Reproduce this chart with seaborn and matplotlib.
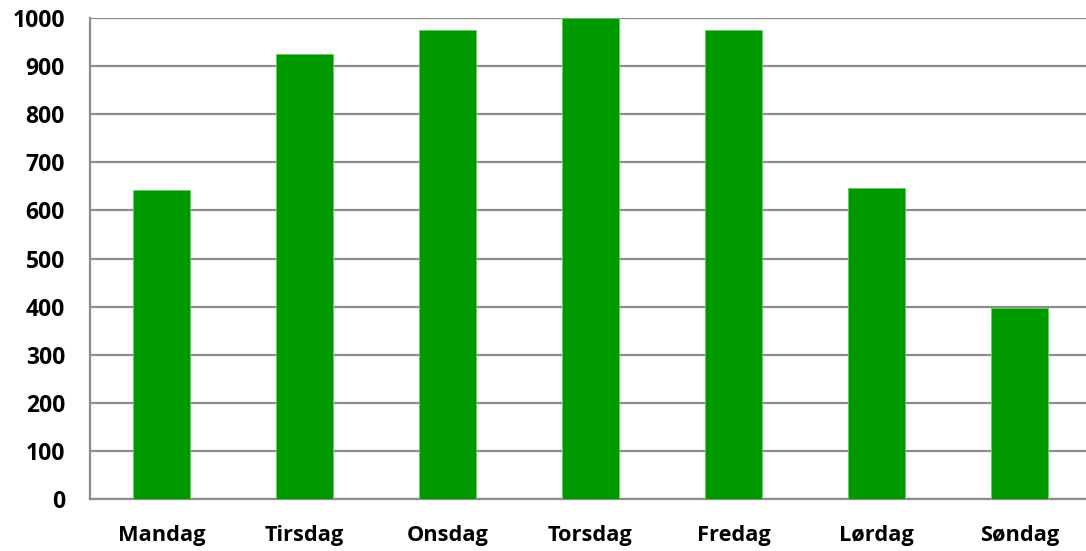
import matplotlib
matplotlib.use("Agg")
import matplotlib.pyplot as plt
from matplotlib.ticker import FixedLocator
import seaborn as sns
import pandas as pd

days = ["Mandag", "Tirsdag", "Onsdag", "Torsdag", "Fredag", "Lørdag", "Søndag"]
counts = [642, 925, 975, 1000, 975, 647, 397]
y_ticks = [0, 100, 200, 300, 400, 500, 600, 700, 800, 900, 1000]

sns.set_theme(style="white")
plt.rcParams["font.family"] = ["Open Sans", "DejaVu Sans"]

df = pd.DataFrame({"day": days, "count": counts})

W, H = 1086, 551
fig = plt.figure(figsize=(W / 100, H / 100), dpi=100)
left, right, top, bottom = 90, 1086, 18, 499
ax = fig.add_axes([left / W, 1 - bottom / H, (right - left) / W, (bottom - top) / H])

grid_color = "#8c8c8c"
sns.barplot(data=df, x="day", y="count", order=days, color="#009900",
            width=0.4, saturation=1, edgecolor="#5fcf5f", linewidth=0.6,
            ax=ax, zorder=3)

cat_px = 143.0
ax.set_xlim(-0.5, -0.5 + (right - left) / cat_px)
ax.set_ylim(0, 1000)
ax.set_yticks(y_ticks)
ax.set_yticklabels([str(v) for v in y_ticks], fontweight="bold", fontsize=16.5, color="black")
ax.set_xticks(range(len(days)))
ax.set_xticklabels(days, fontweight="bold", fontsize=15.7, color="black")
ax.xaxis.set_minor_locator(FixedLocator([i - 0.5 for i in range(len(days) + 1)]))

ax.tick_params(axis="x", which="major", length=0, pad=19)
ax.tick_params(axis="x", which="minor", length=6, width=1.5, color=grid_color, direction="out")
ax.tick_params(axis="y", which="major", length=6, width=1.5, color=grid_color, direction="out", pad=12)

ax.yaxis.grid(True, color=grid_color, linewidth=1.6, zorder=0)
ax.set_axisbelow(True)

for s in ["top", "right"]:
    ax.spines[s].set_visible(False)
for s in ["left", "bottom"]:
    ax.spines[s].set_color(grid_color)
    ax.spines[s].set_linewidth(1.6)

ax.set_xlabel("")
ax.set_ylabel("")

fig.savefig("out.png", dpi=100)
